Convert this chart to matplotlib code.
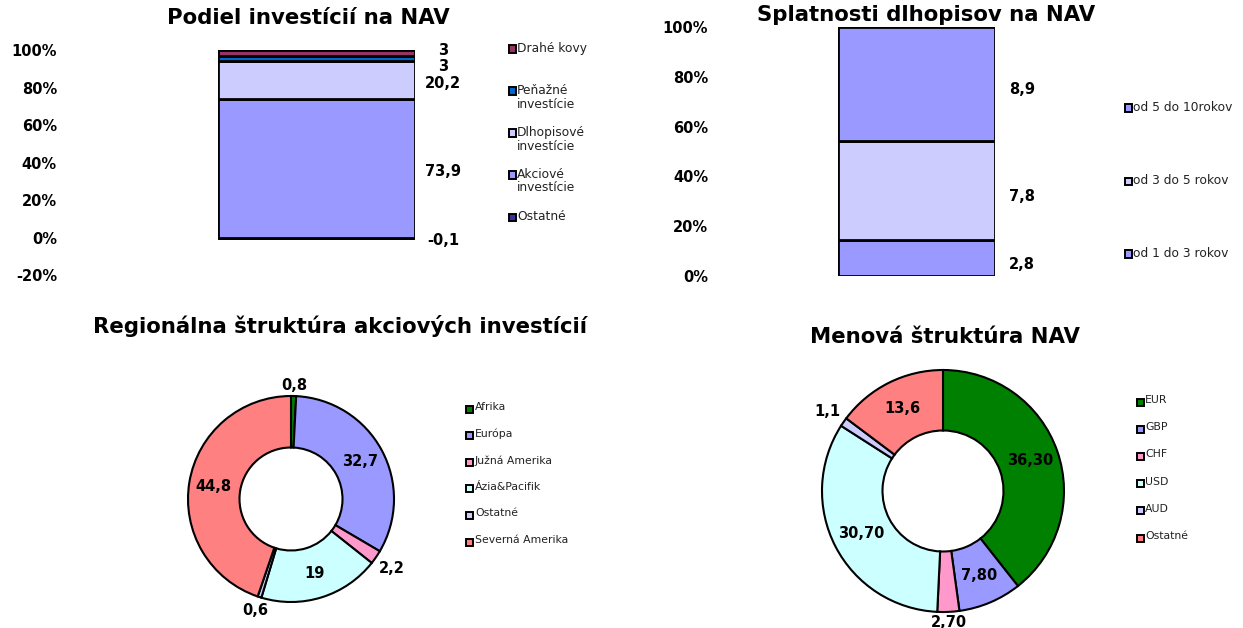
import numpy as np
import matplotlib
matplotlib.use("Agg")
import matplotlib.pyplot as plt
from matplotlib.patches import Rectangle

plt.rcParams['font.family'] = ['DejaVu Sans']

# --- data ---
invest_names = ['Ostatné', 'Akciové\ninvestície', 'Dlhopisové\ninvestície', 'Peňažné\ninvestície', 'Drahé kovy']
invest_values = [-0.1, 73.9, 20.2, 3, 3]
invest_colors = ['#333399', '#9999FF', '#CCCCFF', '#0066CC', '#993366']

bond_names = ['od 1 do 3 rokov', 'od 3 do 5 rokov', 'od 5 do 10rokov']
bond_values = [2.8, 7.8, 8.9]
bond_colors = ['#9999FF', '#CCCCFF', '#9999FF']

region_names = ['Afrika', 'Európa', 'Južná Amerika', 'Ázia&Pacifik', 'Ostatné', 'Severná Amerika']
region_values = [0.8, 32.7, 2.2, 19, 0.6, 44.8]
region_texts = ['0,8', '32,7', '2,2', '19', '0,6', '44,8']
region_colors = ['#008000', '#9999FF', '#FF99CC', '#CCFFFF', '#CCCCFF', '#FF8080']

curr_names = ['EUR', 'GBP', 'CHF', 'USD', 'AUD', 'Ostatné']
curr_values = [36.30, 7.80, 2.70, 30.70, 1.1, 13.6]
curr_texts = ['36,30', '7,80', '2,70', '30,70', '1,1', '13,6']
curr_colors = ['#008000', '#9999FF', '#FF99CC', '#CCFFFF', '#CCCCFF', '#FF8080']

W, H = 1243, 628
fig = plt.figure(figsize=(W / 100, H / 100), dpi=100)


def box(l, t, r, b):
    return [l / W, 1 - b / H, (r - l) / W, (b - t) / H]


def fmt(v):
    return f"{v:g}".replace('.', ',')


def draw_legend(x, ys, labels, colors, size):
    for y, lab, c in zip(ys, labels, colors):
        fig.patches.append(Rectangle(((x - 3.5) / W, 1 - (y + 3.5) / H), 7 / W, 7 / H,
                                     transform=fig.transFigure, fc=c, ec='black', lw=1.4))
        fig.text((x + 5) / W, 1 - (y - 7) / H, lab, fontsize=size, va='top', ha='left',
                 linespacing=1.05, color='#222222')


def stacked_bar(ax, values, colors, ylim, ticks):
    ax.set_xlim(-0.5, 0.5)
    ax.set_ylim(*ylim)
    total = sum(abs(v) for v in values)
    pct = [100 * v / total for v in values]
    pos, neg = 0.0, 0.0
    centers = []
    for p, c in zip(pct, colors):
        if p >= 0:
            ax.bar(0, p, width=1, bottom=pos, color=c, edgecolor='black', linewidth=2.0)
            centers.append(pos + p / 2)
            pos += p
        else:
            ax.bar(0, p, width=1, bottom=neg, color=c, edgecolor='black', linewidth=2.0)
            centers.append(neg + p / 2)
            neg += p
    for s in ax.spines.values():
        s.set_visible(False)
    ax.set_xticks([])
    ax.set_yticks(ticks)
    ax.set_yticklabels([f"{t}%" for t in ticks], fontsize=10.5, fontweight='bold')
    ax.tick_params(axis='y', length=0)
    return centers


# --- top left: Podiel investícií na NAV ---
ax1 = fig.add_axes(box(218, 50, 415, 275))
c1 = stacked_bar(ax1, invest_values, invest_colors, (-20, 100), range(-20, 101, 20))
ax1.tick_params(axis='y', pad=(218 - 57) * 0.72)
ppu1 = (275 - 50) / 120
ys = list(c1)
# spread labels that are too close (in px)
for i in range(1, len(ys)):
    gap = (ys[i] - ys[i - 1]) * ppu1
    if gap < 16:
        shift = (16 - gap) / 2 / ppu1
        ys[i] += shift
        ys[i - 1] -= shift
for v, y in zip(invest_values, ys):
    ax1.annotate(fmt(v), xy=(0.5, y), xytext=(28 * 0.72, -3 * 0.72), textcoords='offset points',
                 ha='center', va='center', fontsize=10.5, fontweight='bold', annotation_clip=False)
draw_legend(512, np.linspace(49, 217, 5), invest_names[::-1], invest_colors[::-1], 8.8)
fig.text(308 / W, 1 - 18 / H, 'Podiel investícií na NAV', ha='center', va='center',
         fontsize=15.3, fontweight='bold')

# --- top right: Splatnosti dlhopisov na NAV ---
ax2 = fig.add_axes(box(838, 27, 995, 276))
c2 = stacked_bar(ax2, bond_values, bond_colors, (0, 100), range(0, 101, 20))
ax2.tick_params(axis='y', pad=(838 - 708) * 0.72)
for v, y in zip(bond_values, c2):
    ax2.annotate(fmt(v), xy=(0.5, y), xytext=(27 * 0.72, -6 * 0.72), textcoords='offset points',
                 ha='center', va='center', fontsize=10.5, fontweight='bold', annotation_clip=False)
draw_legend(1128, np.linspace(108, 254, 3), bond_names[::-1], bond_colors[::-1], 8.8)
fig.text(926 / W, 1 - 15 / H, 'Splatnosti dlhopisov na NAV', ha='center', va='center',
         fontsize=15.3, fontweight='bold')


# --- donuts ---
def donut(ax, values, texts, colors, R):
    wedges, _ = ax.pie(values, colors=colors, startangle=90, counterclock=False,
                       wedgeprops=dict(width=0.5, edgecolor='black', linewidth=1.5))
    ax.set_xlim(-1, 1)
    ax.set_ylim(-1, 1)
    total = sum(values)
    for w, v, t in zip(wedges, values, texts):
        ang = np.deg2rad((w.theta1 + w.theta2) / 2)
        ca, sa = np.cos(ang), np.sin(ang)
        if v / total < 0.03:
            r = 1 + (3 + 15 * abs(ca) + 7 * abs(sa)) / R
        else:
            r = 0.76
        ax.text(r * ca, r * sa, t, ha='center', va='center', fontsize=10.5, fontweight='bold')


ax3 = fig.add_axes(box(291 - 103, 499 - 103, 291 + 103, 499 + 103))
donut(ax3, region_values, region_texts, region_colors, 103)
draw_legend(470, np.linspace(409, 542, 6), region_names, region_colors, 7.8)
fig.text(340 / W, 1 - 326 / H, 'Regionálna štruktúra akciových investícií', ha='center', va='center',
         fontsize=15.3, fontweight='bold')

ax4 = fig.add_axes(box(943 - 121, 491 - 121, 943 + 121, 491 + 121))
donut(ax4, curr_values, curr_texts, curr_colors, 121)
draw_legend(1140, np.linspace(402, 538, 6), curr_names, curr_colors, 7.8)
fig.text(945 / W, 1 - 337 / H, 'Menová štruktúra NAV', ha='center', va='center',
         fontsize=15.3, fontweight='bold')

fig.savefig('out.png', dpi=100, facecolor='white')
